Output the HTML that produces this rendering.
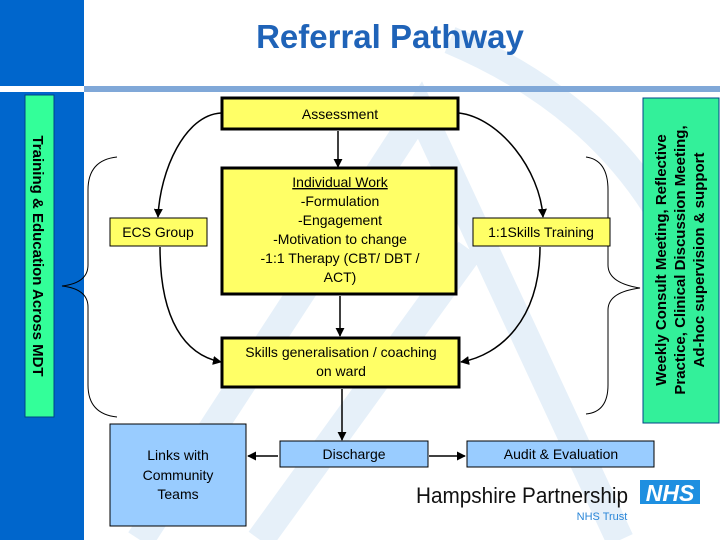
<!DOCTYPE html>
<html><head><meta charset="utf-8"><style>
html,body{margin:0;padding:0;background:#fff;}
svg{display:block;font-family:"Liberation Sans",Arial,sans-serif;}
</style></head><body>
<svg width="720" height="540" viewBox="0 0 720 540" xmlns="http://www.w3.org/2000/svg">
<defs>
<marker id="ah" viewBox="0 0 10 10" refX="9" refY="5" markerWidth="6" markerHeight="6" orient="auto-start-reverse"><path d="M0,0 L10,5 L0,10 z" fill="#000"/></marker>
</defs>
<rect width="720" height="540" fill="#fff"/>
<!-- watermark -->
<g stroke="#E6F0F9" stroke-width="28" fill="none" stroke-linecap="butt">
<path d="M140,540 L420,110 L620,540"/>
<path d="M260,540 L470,250"/>
<path d="M450,40 Q640,120 700,300"/>
</g>
<!-- left blue -->
<rect x="0" y="0" width="84" height="86" fill="#0066CC"/>
<rect x="0" y="92" width="84" height="448" fill="#0066CC"/>
<rect x="84" y="86" width="636" height="6" fill="#80A8D8"/>
<text x="390" y="48" text-anchor="middle" font-size="33" font-weight="bold" fill="#1F63B8">Referral Pathway</text>
<!-- left green -->
<rect x="25" y="95" width="29" height="322" fill="#33FF99" stroke="#004488" stroke-width="1"/>
<text transform="translate(33,256) rotate(90)" text-anchor="middle" font-size="15" font-weight="bold" fill="#000">Training &amp; Education Across MDT</text>
<!-- right green -->
<rect x="643" y="98" width="76" height="325" fill="#33F09A" stroke="#004488" stroke-width="1"/>
<g font-size="15" font-weight="bold" fill="#000" text-anchor="middle">
<text transform="translate(666,260) rotate(-90)">Weekly Consult Meeting, Reflective</text>
<text transform="translate(685,260) rotate(-90)">Practice, Clinical Discussion Meeting,</text>
<text transform="translate(704,260) rotate(-90)">Ad-hoc supervision &amp; support</text>
</g>
<!-- braces -->
<g stroke="#000" stroke-width="1" fill="none">
<path d="M117,157 Q88,160 88,190 L88,265 Q88,283 62,286 Q88,289 88,307 L88,385 Q88,414 117,417"/>
<path d="M586,157 Q608,160 608,190 L608,265 Q608,283 640,288 Q608,292 608,310 L608,385 Q608,412 586,414"/>
</g>
<!-- boxes -->
<g stroke="#000">
<rect x="222" y="98" width="236" height="31" fill="#FFFF66" stroke-width="3"/>
<rect x="222" y="168" width="234" height="126" fill="#FFFF66" stroke-width="3"/>
<rect x="222" y="338" width="237" height="49" fill="#FFFF66" stroke-width="3"/>
<rect x="110" y="218" width="97" height="28" fill="#FFFF66" stroke-width="1"/>
<rect x="473" y="218" width="137" height="28" fill="#FFFF66" stroke-width="1"/>
<rect x="110" y="424" width="136" height="102" fill="#99CCFF" stroke-width="1"/>
<rect x="280" y="441" width="148" height="26" fill="#99CCFF" stroke-width="1"/>
<rect x="467" y="441" width="187" height="26" fill="#99CCFF" stroke-width="1"/>
</g>
<g font-size="14" fill="#000" text-anchor="middle">
<text x="340" y="119">Assessment</text>
<text x="340" y="187" text-decoration="underline">Individual Work</text>
<text x="340" y="206">-Formulation</text>
<text x="340" y="225">-Engagement</text>
<text x="340" y="244">-Motivation to change</text>
<text x="340" y="263">-1:1 Therapy (CBT/ DBT /</text>
<text x="340" y="282">ACT)</text>
<text x="158" y="237">ECS Group</text>
<text x="541" y="237">1:1Skills Training</text>
<text x="341" y="357">Skills generalisation / coaching</text>
<text x="341" y="376">on ward</text>
<text x="178" y="460">Links with</text>
<text x="178" y="480">Community</text>
<text x="178" y="499">Teams</text>
<text x="354" y="459">Discharge</text>
<text x="561" y="459">Audit &amp; Evaluation</text>
</g>
<!-- arrows -->
<g stroke="#000" stroke-width="1.5" fill="none" marker-end="url(#ah)">
<line x1="338" y1="131" x2="338" y2="167"/>
<line x1="340" y1="296" x2="340" y2="336"/>
<line x1="342" y1="389" x2="342" y2="440"/>
<line x1="278" y1="456" x2="248" y2="456"/>
<line x1="429" y1="456" x2="465" y2="456"/>
<path d="M221,113 C185,115 160,170 158,217"/>
<path d="M459,113 C500,118 540,170 543,217"/>
<path d="M160,247 C160,320 185,355 221,362"/>
<path d="M540,247 C540,320 500,355 461,362"/>
</g>
<!-- logo -->
<text x="416" y="503" font-size="22" fill="#111" textLength="212" lengthAdjust="spacingAndGlyphs">Hampshire Partnership</text>
<rect x="640" y="480" width="60" height="24" fill="#1E8FE0"/>
<text x="670" y="501" text-anchor="middle" font-size="23" font-weight="bold" font-style="italic" fill="#fff">NHS</text>
<text x="602" y="520" text-anchor="middle" font-size="11" fill="#2A86D8">NHS Trust</text>
</svg>
</body></html>
